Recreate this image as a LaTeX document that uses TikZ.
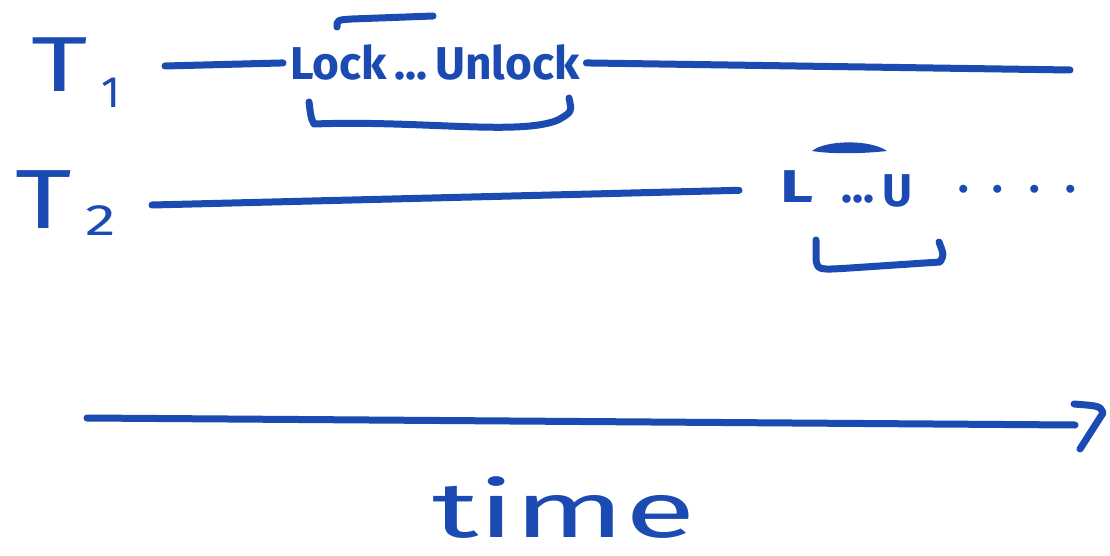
\documentclass[tikz,border=0pt]{standalone}
\usepackage{fontspec}
\setmainfont{Fira Sans}
\usepackage{xcolor}
\definecolor{ink}{RGB}{26,74,178}

\begin{document}
\begin{tikzpicture}[x=1pt,y=-1pt,
  pen/.style={draw=ink,line width=7pt,line cap=round,line join=round},
  hand/.style={text=ink,inner sep=0pt,outer sep=7pt,anchor=base west}]
\useasboundingbox (0,0) rectangle (1110,556);

\node[hand,font=\fontsize{78}{78}\selectfont] (tone) at (24,92) {\scalebox{1.4}[1]{T}\hspace{14pt}\raisebox{-16pt}{\fontsize{44}{44}\selectfont 1}};
\node[hand,font=\fontsize{84}{84}\selectfont] (ttwo) at (8,228) {\scalebox{1.3}[1]{T}\hspace{14pt}\raisebox{-7pt}{\fontsize{44}{44}\selectfont\scalebox{1.4}[1]{2}}};

\node[hand,font=\fontsize{46}{46}\selectfont\bfseries] (lock) at (283,80) {Lock\,...\,Unlock};
\node[hand,font=\fontsize{46}{46}\selectfont\bfseries] (lu) at (773,203) {\scalebox{1.4}[1]{L}\hspace{28pt}...\hspace{8pt}\raisebox{-4pt}{U}};
\node[hand,font=\fontsize{44}{44}\selectfont\bfseries] (more) at (951,193) {.\hspace{24pt}.\hspace{26pt}.\hspace{26pt}.};
\node[hand,font=\fontsize{78}{78}\selectfont] (time) at (425,537) {\scalebox{1.65}[1]{time}};

\coordinate (aone) at (165,66);
\coordinate (bone) at (1070,70);
\coordinate (atwo) at (152,205);
\coordinate (ta) at (87,418);
\coordinate (tb) at (1075,425);

\draw[pen] (aone) -- (lock.west);
\draw[pen] (lock.east) -- (bone);
\draw[pen,shorten >=34pt] (atwo) -- (lu.west);

\draw[pen] (337,27) .. controls (337,20) .. (352,19) -- (433,16);
\draw[pen] (309,102) .. controls (311,118) .. (314,124) .. controls (420,120) and (520,136) .. (558,120) .. controls (572,112) .. (569,98);

\fill[ink] (812,151) .. controls (825,140) and (870,139) .. (887,151) .. controls (860,154) and (830,154) .. cycle;
\draw[pen] (816,240) -- (816,260) .. controls (818,270) .. (850,268) -- (940,262) .. controls (944,255) .. (939,242);

\draw[pen] (ta) -- (tb);
\draw[pen] (1074,404) .. controls (1100,406) .. (1103,413) -- (1080,449);
\end{tikzpicture}
\end{document}
